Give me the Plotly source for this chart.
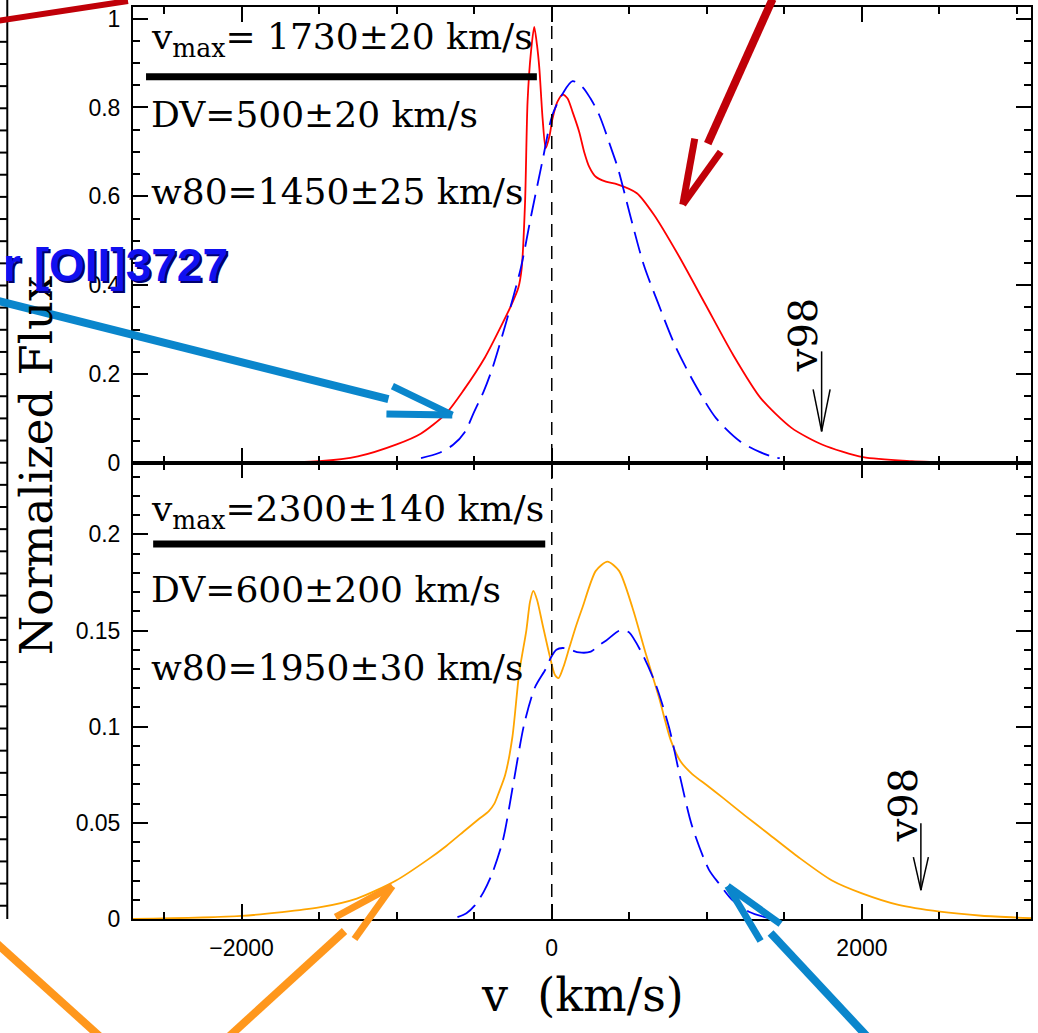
import plotly.graph_objects as go
from plotly.subplots import make_subplots

# ---------------- data ----------------
# top panel: red solid profile
v_top_red = [-1900, -1500, -1250, -1000, -845, -685, -568, -430, -338, -260, -215, -194,
             -172, -156, -134, -113, -95, -80, -59, -39, -15, 5, 37, 70, 102, 134, 177,
             209, 241, 284, 349, 423, 549, 660, 814, 992, 1168, 1347, 1546, 1746, 2008,
             2322, 2632]
f_top_red = [0.0, 0.004, 0.015, 0.042, 0.066, 0.110, 0.164, 0.238, 0.300, 0.356, 0.395, 0.438,
             0.588, 0.813, 0.925, 0.981, 0.940, 0.888, 0.775, 0.708, 0.735, 0.775, 0.813, 0.829,
             0.820, 0.790, 0.745, 0.700, 0.667, 0.644, 0.633, 0.627, 0.607, 0.558, 0.469, 0.356,
             0.244, 0.146, 0.079, 0.041, 0.013, 0.004, 0.0]
# top panel: blue dashed profile
v_top_blue = [-843, -728, -636, -560, -499, -440, -383, -293, -200, -132, -61, 4, 70, 134,
              198, 250, 306, 391, 427, 505, 593, 682, 793, 925, 1059, 1213, 1340, 1436, 1470]
f_top_blue = [0.011, 0.0225, 0.041, 0.070, 0.116, 0.160, 0.213, 0.318, 0.438, 0.558, 0.678,
              0.783, 0.831, 0.859, 0.846, 0.820, 0.783, 0.700, 0.663, 0.558, 0.446, 0.363,
              0.266, 0.176, 0.101, 0.049, 0.025, 0.013, 0.011]
# bottom panel: orange solid profile
v_bot_orange = [-2700, -2000, -1500, -1257, -1004, -797, -680, -568, -470, -407, -370, -340,
                -300, -254, -210, -164, -140, -119, -95, -59, -16, 20, 44, 75, 113, 155, 198,
                284, 359, 434, 520, 606, 692, 767, 830, 904, 1000, 1104, 1250, 1378, 1593,
                1807, 2000, 2236, 2502, 2772, 3090]
f_bot_orange = [0.0, 0.0016, 0.006, 0.0106, 0.020, 0.031, 0.038, 0.0455, 0.052, 0.056, 0.060,
                0.066, 0.075, 0.0945, 0.128, 0.150, 0.165, 0.1706, 0.166, 0.153, 0.1378, 0.127,
                0.1253, 0.131, 0.141, 0.152, 0.162, 0.181, 0.1858, 0.181, 0.162, 0.138, 0.115,
                0.093, 0.082, 0.0755, 0.0695, 0.063, 0.0535, 0.0455, 0.032, 0.020, 0.0133,
                0.0073, 0.0038, 0.0017, 0.0004]
# bottom panel: blue dashed profile
v_bot_blue = [-608, -550, -499, -440, -383, -315, -246, -177, -108, -39, -5, 30, 70, 120, 177,
              252, 300, 349, 434, 470, 499, 584, 670, 756, 830, 904, 1013, 1078, 1163, 1271, 1400]
f_bot_blue = [0.001, 0.003, 0.0068, 0.014, 0.0239, 0.041, 0.0712, 0.1016, 0.1205, 0.130, 0.136,
              0.140, 0.1409, 0.140, 0.1386, 0.139, 0.142, 0.1447, 0.1499, 0.150, 0.149, 0.1378,
              0.122, 0.0997, 0.073, 0.0485, 0.0257, 0.0185, 0.0099, 0.0038, 0.0004]

v98_top = 1740
v98_bot = 2380
bar_top_x = [-2616, -96]
bar_top_y = 0.869
bar_bot_x = [-2570, -42]
bar_bot_y = 0.195

top_labels = ["v<sub>max</sub>= 1730±20 km/s", "DV=500±20 km/s", "w80=1450±25 km/s"]
bot_labels = ["v<sub>max</sub>=2300±140 km/s", "DV=600±200 km/s", "w80=1950±30 km/s"]

# ---------------- figure ----------------
W, H = 1038, 1033
ML, MR, MT, MB = 133, 5, 5, 114
PW, PH = W - ML - MR, H - MT - MB


def fx(px):
    return (px - ML) / PW


def fy(py):
    return (H - MB - py) / PH


fig = make_subplots(rows=2, cols=1, shared_xaxes=True, vertical_spacing=0)

fig.add_trace(go.Scatter(x=v_top_red, y=f_top_red, mode="lines",
                         line=dict(color="#ff0000", width=1.8, shape="spline", smoothing=0.7)),
              row=1, col=1)
fig.add_trace(go.Scatter(x=v_top_blue, y=f_top_blue, mode="lines",
                         line=dict(color="#0000ff", width=1.8, dash="22px,9px",
                                   shape="spline", smoothing=0.8)),
              row=1, col=1)
fig.add_trace(go.Scatter(x=v_bot_orange, y=f_bot_orange, mode="lines",
                         line=dict(color="#ffa500", width=1.8, shape="spline", smoothing=0.7)),
              row=2, col=1)
fig.add_trace(go.Scatter(x=v_bot_blue, y=f_bot_blue, mode="lines",
                         line=dict(color="#0000ff", width=1.8, dash="22px,9px",
                                   shape="spline", smoothing=0.8)),
              row=2, col=1)

tickfont = dict(family="Liberation Sans", size=23, color="black")
xcommon = dict(range=[-2700, 3090], showline=True, linecolor="black", linewidth=2,
               mirror="ticks", ticks="inside", ticklen=15, tickwidth=2, tickcolor="black",
               dtick=2000, tick0=0, showgrid=False, zeroline=False, tickfont=tickfont,
               minor=dict(dtick=500, tick0=0, ticks="inside", ticklen=7, tickwidth=2,
                          tickcolor="black", showgrid=False),
               ticklabelstandoff=7)
ycommon = dict(showline=True, linecolor="black", linewidth=2, mirror="ticks", ticks="inside",
               ticklen=15, tickwidth=2, tickcolor="black", showgrid=False, zeroline=False,
               tickfont=tickfont, ticklabelstandoff=6)

fig.update_xaxes(**xcommon)
fig.update_yaxes(**ycommon)
fig.update_yaxes(range=[0, 1.026], dtick=0.2, tick0=0,
                 minor=dict(dtick=0.05, tick0=0, ticks="inside", ticklen=7, tickwidth=2,
                            tickcolor="black", showgrid=False), row=1, col=1)
fig.update_yaxes(range=[0, 0.2371], dtick=0.05, tick0=0,
                 minor=dict(dtick=0.01, tick0=0, ticks="inside", ticklen=7, tickwidth=2,
                            tickcolor="black", showgrid=False), row=2, col=1)

shapes = []
# vertical dashed zero line
shapes.append(dict(type="line", xref="x", yref="paper", x0=0, x1=0, y0=0, y1=1,
                   line=dict(color="black", width=1.5, dash="13px,9px"), layer="above"))
# thick bars
shapes.append(dict(type="line", xref="x", yref="y", x0=bar_top_x[0], x1=bar_top_x[1],
                   y0=bar_top_y, y1=bar_top_y, line=dict(color="black", width=7)))
shapes.append(dict(type="line", xref="x2", yref="y2", x0=bar_bot_x[0], x1=bar_bot_x[1],
                   y0=bar_bot_y, y1=bar_bot_y, line=dict(color="black", width=7)))

# v98 arrows (pixel-sized, anchored at the data value)
for xr, yr, v, ytip, shaft, arm, half in [("x", "y", v98_top, 0.0712, 80, 42, 8.5),
                                          ("x2", "y2", v98_bot, 0.015, 67, 33, 7.5)]:
    for (a0, b0) in [(0, shaft), (-half, arm), (half, arm)]:
        shapes.append(dict(type="line", xref=xr, yref=yr, xsizemode="pixel",
                           ysizemode="pixel", xanchor=v, yanchor=ytip,
                           x0=a0, y0=b0, x1=0, y1=0, line=dict(color="black", width=1.5)))

# partial neighbouring panel at the far left
shapes.append(dict(type="line", xref="paper", yref="paper", x0=fx(7), x1=fx(7),
                   y0=fy(-2), y1=fy(919), line=dict(color="black", width=2)))
for k in range(-20, 21):
    py = 461.7 + 22.2 * k
    if -2 < py < 921:
        shapes.append(dict(type="line", xref="paper", yref="paper", x0=fx(-2), x1=fx(7),
                           y0=fy(py), y1=fy(py), line=dict(color="black", width=2)))

# overlay arrows (pixel coordinates of the picture)
RED, BLUE, ORANGE = "#c00008", "#0a86cc", "#ff971c"
segs = [
    (-4, 19, 128, -1, RED, 6),
    (774, -3, 709, 142, RED, 8), (696, 137, 684, 203, RED, 7), (722, 150, 684, 203, RED, 7),
    (-4, 299, 389, 398, BLUE, 8), (393, 385, 453, 414, BLUE, 7), (387, 413, 453, 414, BLUE, 7),
    (-4, 943, 100, 1037, ORANGE, 8),
    (229, 1037, 345, 931, ORANGE, 8), (336, 917, 393, 886, ORANGE, 7), (355, 939, 393, 886, ORANGE, 7),
    (869, 1037, 772, 933, BLUE, 8), (782, 924, 729, 886, BLUE, 7), (762, 941, 729, 886, BLUE, 7),
]
for x0, y0, x1, y1, c, w in segs:
    shapes.append(dict(type="line", xref="paper", yref="paper", x0=fx(x0), y0=fy(y0),
                       x1=fx(x1), y1=fy(y1), line=dict(color=c, width=w), layer="above"))

fig.update_layout(shapes=shapes)

annots = []
serif = "DejaVu Serif"
for txt, py in zip(top_labels, [38, 112.5, 189.5]):
    annots.append(dict(text=txt, xref="paper", yref="paper", x=fx(149), y=fy(py),
                       xanchor="left", yanchor="middle", showarrow=False,
                       font=dict(family=serif, size=36, color="black")))
for txt, py in zip(bot_labels, [511, 589, 667]):
    annots.append(dict(text=txt, xref="paper", yref="paper", x=fx(149), y=fy(py),
                       xanchor="left", yanchor="middle", showarrow=False,
                       font=dict(family=serif, size=36, color="black")))
# v98 labels
annots.append(dict(text="v98", xref="x", yref="y", x=v98_top, y=0.289, xshift=-19,
                   textangle=-90, showarrow=False,
                   font=dict(family=serif, size=40, color="black")))
annots.append(dict(text="v98", xref="x2", yref="y2", x=v98_bot, y=0.0596, xshift=-18,
                   textangle=-90, showarrow=False,
                   font=dict(family=serif, size=40, color="black")))
# axis titles
annots.append(dict(text="Normalized Flux", xref="paper", yref="paper", x=fx(37), y=fy(464),
                   textangle=-90, showarrow=False, xanchor="center", yanchor="middle",
                   font=dict(family=serif, size=45, color="black")))
annots.append(dict(text="v\u00a0 (km/s)", xref="paper", yref="paper", x=fx(584), y=fy(995),
                   showarrow=False, xanchor="center", yanchor="middle",
                   font=dict(family=serif, size=46, color="black")))
# overlay label
for col, sx, sy in [("#000070", 2, -2), ("#1010f0", 0, 0)]:
    annots.append(dict(text="<b>r [OII]3727</b>", xref="paper", yref="paper", x=fx(229),
                       y=fy(264), xanchor="right", yanchor="middle", showarrow=False,
                       xshift=sx, yshift=sy, borderpad=0,
                       font=dict(family="Liberation Sans", size=46, color=col)))

fig.update_layout(annotations=annots, width=W, height=H,
                  margin=dict(l=ML, r=MR, t=MT, b=MB),
                  paper_bgcolor="white", plot_bgcolor="white", showlegend=False)

fig.write_html("out.html")
